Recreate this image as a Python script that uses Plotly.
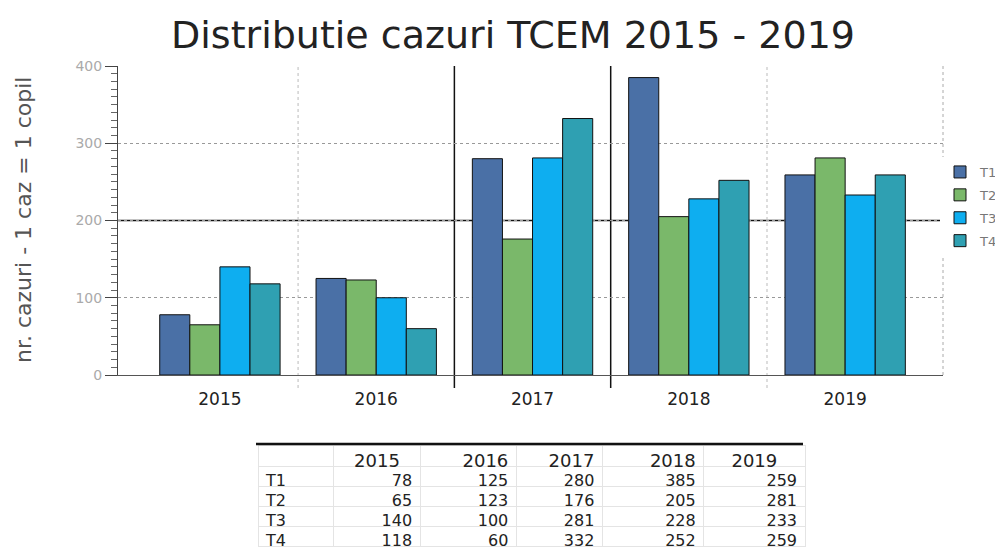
import plotly.graph_objects as go

years = ["2015", "2016", "2017", "2018", "2019"]
series_names = ["T1", "T2", "T3", "T4"]
T1 = [78, 125, 280, 385, 259]
T2 = [65, 123, 176, 205, 281]
T3 = [140, 100, 281, 228, 233]
T4 = [118, 60, 332, 252, 259]
values = [T1, T2, T3, T4]
colors = ["#4a70a6", "#7ab86a", "#0eaef0", "#2fa0b2"]

# the page body has an 8px default margin, so figure coords = screen coords - 8
OFF = 8
W, H = 1003 - OFF, 556 - OFF
L, R, T, B = 118 - OFF, 60, 66 - OFF, 0
PW = W - L - R            # plot width in px
PH = H - T - B            # paper height in px
plot_bottom_px = 375 - OFF
ydom0 = (H - plot_bottom_px) / PH


def xp(px):
    return (px - OFF - L) / PW


def yp(py):
    return (H - (py - OFF)) / PH


fig = go.Figure()
for name, vals, col in zip(series_names, values, colors):
    fig.add_trace(go.Bar(
        x=years, y=vals, name=name, legendgroup=name,
        marker=dict(color=col, line=dict(color="#111111", width=1)),
        xaxis="x", yaxis="y",
    ))

# table below
tbl_header = [""] + years
tbl_cols = [series_names] + [[v[i] for v in values] for i in range(len(years))]
fig.add_trace(go.Table(
    domain=dict(x=[xp(258), xp(805)], y=[0, yp(445)]),
    columnwidth=[75, 85, 95, 85, 100, 100],
    header=dict(values=tbl_header, align=["left", "center", "right", "right", "right", "center"],
                font=dict(family="DejaVu Sans", size=18, color="#222222"),
                fill_color="white", line=dict(color="#e4e4e4", width=1), height=21),
    cells=dict(values=tbl_cols, align=["left", "right", "right", "right", "right", "right"],
               font=dict(family="DejaVu Sans", size=16, color="#222222"),
               fill_color="white", line=dict(color="#e4e4e4", width=1), height=20),
))

shapes = []
# strong horizontal line at 200
shapes.append(dict(type="line", xref="paper", yref="y", x0=0, x1=1, y0=200, y1=200,
                   line=dict(color="#111111", width=1.5), layer="below"))
# category separators
for xb, col, dash, w in [(0.5, "#bbbbbb", "dot", 1), (1.5, "#111111", "solid", 1.5),
                         (2.5, "#111111", "solid", 1.5), (3.5, "#bbbbbb", "dot", 1)]:
    shapes.append(dict(type="line", xref="x", yref="paper", x0=xb, x1=xb,
                       y0=yp(388), y1=1, line=dict(color=col, width=w, dash=dash), layer="below"))
# table top border
shapes.append(dict(type="line", xref="paper", yref="paper", x0=xp(256), x1=xp(803),
                   y0=yp(444), y1=yp(444), line=dict(color="#111111", width=2.5)))
# right plot border (dotted)
shapes.append(dict(type="line", xref="paper", yref="paper", x0=1, x1=1, y0=ydom0, y1=1,
                   line=dict(color="#aaaaaa", width=1, dash="dot")))

fig.update_layout(
    width=W, height=H,
    margin=dict(l=L, r=R, t=T, b=B, autoexpand=False),
    paper_bgcolor="white", plot_bgcolor="white",
    barmode="group", bargap=0.23, bargroupgap=0,
    title=dict(text="Distributie cazuri TCEM 2015 - 2019", x=(513 - OFF) / W, xanchor="center",
               y=1 - (35 - OFF) / H, yanchor="middle",
               font=dict(family="DejaVu Sans", size=38, color="#222222")),
    xaxis=dict(domain=[0, 1], range=[-0.652, 4.626], showgrid=False, ticks="",
               showline=True, linecolor="#555555", linewidth=1, mirror=False,
               ticklabelstandoff=9, automargin=False,
               tickfont=dict(family="DejaVu Sans", size=17, color="#222222"), anchor="y"),
    yaxis=dict(domain=[ydom0, 1], range=[0, 400], tickvals=[0, 100, 200, 300, 400],
               showgrid=True, gridcolor="#999999", griddash="dot", gridwidth=1,
               showline=True, linecolor="#444444", linewidth=1, automargin=False,
               ticks="outside", ticklen=12, tickcolor="#444444",
               minor=dict(dtick=10, ticks="outside", ticklen=6, tickcolor="#666666"),
               tickfont=dict(family="DejaVu Sans", size=14, color="#aaaaaa"), zeroline=False),
    legend=dict(x=xp(1003), y=yp(157), xanchor="right", yanchor="top",
                font=dict(family="DejaVu Sans", size=13, color="#777777"),
                itemwidth=30, tracegroupgap=3),
    shapes=shapes,
    annotations=[dict(text="nr. cazuri - 1 caz = 1 copil", textangle=-90, xref="paper", yref="paper",
                      x=xp(23), y=yp(220), xanchor="center", yanchor="middle",
                      showarrow=False,
                      font=dict(family="DejaVu Sans", size=22, color="#555555"))],
)

fig.write_html("out.html")
